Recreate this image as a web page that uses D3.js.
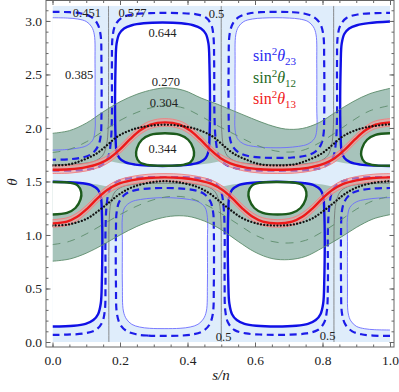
<!DOCTYPE html>
<html>
<head>
<meta charset="utf-8">
<script src="https://cdn.jsdelivr.net/npm/d3@7"></script>
<style>
  body { margin: 0; background: #fff; }
  text { font-family: "Liberation Serif", "Times New Roman", serif; }
</style>
</head>
<body>
<svg id="chart" width="399" height="392"></svg>
<script>
// ---- axis ticks ----
const sTicks = [0, 0.2, 0.4, 0.6, 0.8, 1.0];
const sMinor = d3.range(0, 1.0001, 0.05);
const thetaTicks = [0, 0.5, 1.0, 1.5, 2.0, 2.5, 3.0];
const thetaMinor = d3.range(0, 3.15, 0.1);

// ---- sin^2 theta23 contours, points are (s/n, theta) ----
const b385_U0 = [[0,3.03],[0.045,3.027],[0.075,3.018],[0.1,2.995],[0.116,2.945],[0.124,2.87],[0.126,2.6],[0.126,2.2],[0.126,1.98],[0.119,1.885],[0.1,1.833],[0.072,1.81],[0.035,1.797],[0,1.793]];
const b385_U2 = [[0.662,3.03],[0.702,3.027],[0.732,3.018],[0.757,2.995],[0.773,2.945],[0.781,2.87],[0.783,2.6],[0.783,2.2],[0.783,1.98],[0.776,1.9],[0.757,1.85],[0.729,1.828],[0.692,1.817],[0.662,1.815],[0.632,1.817],[0.595,1.828],[0.567,1.85],[0.548,1.9],[0.541,1.98],[0.541,2.2],[0.541,2.6],[0.543,2.87],[0.551,2.945],[0.567,2.995],[0.592,3.018],[0.622,3.027]];
const b385_L1 = [[0.333,0.125],[0.288,0.128],[0.258,0.14],[0.235,0.165],[0.219,0.215],[0.21,0.29],[0.207,0.542],[0.207,0.942],[0.207,1.162],[0.214,1.257],[0.233,1.309],[0.261,1.332],[0.298,1.345],[0.333,1.349],[0.368,1.345],[0.405,1.332],[0.433,1.309],[0.452,1.257],[0.459,1.162],[0.459,0.942],[0.459,0.542],[0.456,0.29],[0.447,0.215],[0.431,0.165],[0.408,0.14],[0.378,0.128]];
const b385_L3 = [[1,0.112],[0.955,0.115],[0.925,0.124],[0.9,0.147],[0.884,0.197],[0.876,0.272],[0.874,0.542],[0.874,0.942],[0.874,1.162],[0.881,1.257],[0.9,1.309],[0.928,1.332],[0.965,1.345],[1,1.349]];

const b451_U0 = [[0,3.085],[0.05,3.082],[0.085,3.07],[0.113,3.04],[0.132,2.98],[0.142,2.88],[0.145,2.6],[0.145,2.1],[0.143,1.93],[0.135,1.83],[0.117,1.76],[0.09,1.725],[0.05,1.708],[0,1.703]];
const b451_U2 = [[0.663,3.085],[0.71,3.082],[0.745,3.07],[0.773,3.04],[0.792,2.98],[0.802,2.88],[0.805,2.6],[0.805,2.1],[0.803,1.94],[0.795,1.84],[0.777,1.775],[0.75,1.74],[0.71,1.724],[0.663,1.72],[0.617,1.724],[0.577,1.74],[0.55,1.775],[0.532,1.84],[0.524,1.94],[0.522,2.1],[0.522,2.6],[0.525,2.88],[0.535,2.98],[0.554,3.04],[0.582,3.07],[0.617,3.082]];
const b451_L1 = [[0.333,0.057],[0.283,0.06],[0.248,0.072],[0.22,0.102],[0.201,0.162],[0.191,0.262],[0.188,0.542],[0.188,1.042],[0.19,1.212],[0.198,1.312],[0.216,1.382],[0.243,1.417],[0.283,1.434],[0.333,1.439],[0.383,1.434],[0.423,1.417],[0.45,1.382],[0.468,1.312],[0.476,1.212],[0.478,1.042],[0.478,0.542],[0.475,0.262],[0.465,0.162],[0.446,0.102],[0.418,0.072],[0.383,0.06]];
const b451_L3 = [[1,0.057],[0.95,0.06],[0.915,0.072],[0.887,0.102],[0.868,0.162],[0.858,0.262],[0.855,0.542],[0.855,1.042],[0.857,1.212],[0.865,1.312],[0.883,1.382],[0.91,1.417],[0.95,1.434],[1,1.439]];

const b500_U0 = [[0.166,3.1416],[0.166,2.3],[0.165,2.0],[0.16,1.84],[0.148,1.74],[0.125,1.69],[0.09,1.668],[0.045,1.66],[0,1.658]];
const b500_U2 = [[0.5,3.1416],[0.5,2.3],[0.501,2.0],[0.506,1.84],[0.518,1.74],[0.541,1.69],[0.576,1.668],[0.621,1.66],[0.667,1.658],[0.712,1.66],[0.757,1.668],[0.792,1.69],[0.815,1.74],[0.827,1.84],[0.832,2.0],[0.833,2.3],[0.833,3.1416]];
const b500_L1 = [[0.5,0],[0.5,0.842],[0.499,1.142],[0.494,1.302],[0.482,1.402],[0.459,1.452],[0.424,1.474],[0.379,1.482],[0.333,1.484],[0.288,1.482],[0.243,1.474],[0.208,1.452],[0.185,1.402],[0.173,1.302],[0.168,1.142],[0.167,0.842],[0.167,0]];
const b500_L3 = [[0.834,0],[0.834,0.842],[0.835,1.142],[0.84,1.302],[0.852,1.402],[0.875,1.452],[0.91,1.474],[0.955,1.482],[1,1.484]];

const b577_up = [[0,1.60],[0.06,1.602],[0.1,1.61],[0.13,1.628],[0.152,1.665],[0.166,1.74],[0.173,1.88],[0.176,2.1],[0.176,2.6],[0.178,2.85],[0.186,2.96],[0.205,3.03],[0.24,3.062],[0.29,3.073],[0.326,3.075],[0.376,3.073],[0.426,3.062],[0.455,3.03],[0.471,2.96],[0.477,2.85],[0.479,2.6],[0.48,2.1],[0.484,1.88],[0.493,1.74],[0.51,1.665],[0.536,1.628],[0.567,1.61],[0.607,1.602],[0.667,1.60],[0.727,1.602],[0.767,1.61],[0.797,1.628],[0.819,1.665],[0.833,1.74],[0.84,1.88],[0.843,2.1],[0.843,2.6],[0.845,2.85],[0.853,2.96],[0.872,3.03],[0.907,3.062],[0.957,3.073],[1,3.075]];
const b577_lo = [[0,0.067],[0.043,0.069],[0.093,0.08],[0.128,0.112],[0.147,0.182],[0.155,0.292],[0.157,0.542],[0.157,1.042],[0.16,1.262],[0.167,1.402],[0.181,1.477],[0.203,1.514],[0.233,1.532],[0.273,1.54],[0.333,1.542],[0.393,1.54],[0.433,1.532],[0.464,1.514],[0.486,1.477],[0.5,1.402],[0.507,1.262],[0.51,1.042],[0.51,0.542],[0.512,0.292],[0.52,0.182],[0.539,0.112],[0.574,0.08],[0.624,0.069],[0.663,0.067],[0.705,0.069],[0.752,0.08],[0.786,0.112],[0.805,0.182],[0.813,0.292],[0.816,0.542],[0.816,1.042],[0.82,1.262],[0.828,1.402],[0.844,1.477],[0.87,1.514],[0.9,1.532],[0.94,1.54],[1,1.542]];

const b644_U1 = [[0.326,1.645],[0.29,1.648],[0.245,1.658],[0.215,1.68],[0.198,1.72],[0.19,1.78],[0.187,1.9],[0.187,2.6],[0.19,2.79],[0.198,2.88],[0.212,2.93],[0.235,2.96],[0.27,2.978],[0.326,2.985],[0.382,2.978],[0.417,2.96],[0.44,2.93],[0.454,2.88],[0.462,2.79],[0.465,2.6],[0.465,1.9],[0.462,1.78],[0.454,1.72],[0.437,1.68],[0.407,1.658],[0.362,1.648]];
const b644_U3 = [[1,1.645],[0.957,1.648],[0.912,1.658],[0.882,1.68],[0.865,1.72],[0.857,1.78],[0.854,1.9],[0.854,2.6],[0.857,2.79],[0.865,2.88],[0.879,2.93],[0.902,2.96],[0.937,2.98],[1,2.995]];
const b644_L0 = [[0,1.497],[0.043,1.494],[0.088,1.484],[0.118,1.462],[0.135,1.422],[0.143,1.362],[0.146,1.242],[0.146,0.542],[0.143,0.36],[0.135,0.26],[0.121,0.205],[0.098,0.17],[0.063,0.152],[0,0.145]];
const b644_L2 = [[0.663,1.497],[0.702,1.494],[0.747,1.484],[0.777,1.462],[0.794,1.422],[0.802,1.362],[0.805,1.242],[0.805,0.542],[0.802,0.36],[0.794,0.26],[0.78,0.205],[0.757,0.17],[0.722,0.152],[0.663,0.145],[0.604,0.152],[0.569,0.17],[0.546,0.205],[0.532,0.26],[0.524,0.36],[0.521,0.542],[0.521,1.242],[0.524,1.362],[0.532,1.422],[0.549,1.462],[0.579,1.484],[0.624,1.494]];

// ---- sin^2 theta12 contours ----
const g270_up = [[0,1.95],[0.05,1.975],[0.1,2.045],[0.15,2.15],[0.2,2.245],[0.25,2.315],[0.3,2.36],[0.34,2.375],[0.39,2.35],[0.44,2.28],[0.49,2.22],[0.54,2.155],[0.59,2.09],[0.64,2.03],[0.69,1.99],[0.74,1.995],[0.79,2.05],[0.84,2.15],[0.89,2.245],[0.94,2.32],[1,2.37]];
const g270_lo = [[0,0.755],[0.05,0.775],[0.1,0.83],[0.15,0.91],[0.2,1.0],[0.25,1.08],[0.3,1.14],[0.35,1.175],[0.4,1.175],[0.45,1.13],[0.5,1.05],[0.55,0.94],[0.6,0.84],[0.65,0.78],[0.7,0.77],[0.75,0.8],[0.8,0.88],[0.85,0.97],[0.9,1.07],[0.95,1.15],[1,1.19]];
const g304_up = [[0,1.77],[0.05,1.80],[0.1,1.87],[0.15,1.97],[0.2,2.07],[0.25,2.145],[0.3,2.195],[0.34,2.21],[0.39,2.185],[0.44,2.11],[0.49,2.02],[0.54,1.94],[0.59,1.86],[0.64,1.8],[0.69,1.775],[0.74,1.79],[0.79,1.86],[0.84,1.96],[0.89,2.07],[0.94,2.16],[1,2.21]];
const g304_lo = [[0,0.91],[0.05,0.94],[0.1,1.01],[0.15,1.1],[0.2,1.19],[0.25,1.27],[0.3,1.33],[0.35,1.36],[0.4,1.35],[0.45,1.29],[0.5,1.2],[0.55,1.1],[0.6,1.0],[0.65,0.94],[0.7,0.925],[0.75,0.95],[0.8,1.03],[0.85,1.13],[0.9,1.24],[0.95,1.32],[1,1.36]];
const g344_U1 = [[0.333,1.95],[0.29,1.935],[0.265,1.89],[0.25,1.81],[0.248,1.74],[0.258,1.68],[0.28,1.655],[0.333,1.647],[0.387,1.655],[0.409,1.68],[0.419,1.74],[0.417,1.81],[0.402,1.89],[0.377,1.935]];
const g344_U3 = [[1,1.95],[0.957,1.935],[0.932,1.89],[0.917,1.81],[0.915,1.74],[0.925,1.68],[0.947,1.655],[1,1.647]];
const g344_L0 = [[0,1.192],[0.043,1.207],[0.068,1.252],[0.083,1.332],[0.085,1.402],[0.075,1.462],[0.053,1.487],[0,1.495]];
const g344_L2 = [[0.667,1.192],[0.71,1.207],[0.735,1.252],[0.75,1.332],[0.752,1.402],[0.742,1.462],[0.72,1.487],[0.667,1.495],[0.613,1.487],[0.591,1.462],[0.581,1.402],[0.583,1.332],[0.598,1.252],[0.623,1.207]];
// inner edge of the shaded theta12 band
const gIn_up = [[0,1.605],[0.08,1.615],[0.13,1.64],[0.167,1.685],[0.2,1.67],[0.25,1.652],[0.333,1.645],[0.417,1.652],[0.467,1.67],[0.5,1.685],[0.537,1.64],[0.587,1.615],[0.667,1.605],[0.747,1.615],[0.797,1.64],[0.834,1.685],[0.867,1.67],[0.917,1.652],[1,1.645]];
const gIn_lo = [[0,1.497],[0.083,1.49],[0.133,1.472],[0.166,1.457],[0.203,1.502],[0.253,1.527],[0.333,1.537],[0.413,1.527],[0.463,1.502],[0.5,1.457],[0.533,1.472],[0.583,1.49],[0.667,1.497],[0.75,1.49],[0.8,1.472],[0.833,1.457],[0.87,1.502],[0.92,1.527],[1,1.537]];

// ---- sin^2 theta13 best fit ----
const r_up = [[0,1.61],[0.05,1.614],[0.1,1.634],[0.14,1.67],[0.17,1.72],[0.2,1.8],[0.23,1.895],[0.26,1.978],[0.29,2.03],[0.333,2.052],[0.377,2.03],[0.407,1.978],[0.437,1.895],[0.467,1.8],[0.497,1.72],[0.527,1.67],[0.567,1.634],[0.617,1.614],[0.667,1.61],[0.717,1.614],[0.767,1.634],[0.807,1.67],[0.837,1.72],[0.867,1.8],[0.897,1.895],[0.927,1.978],[0.957,2.03],[1,2.052]];
const r_lo = [[0,1.108],[0.043,1.125],[0.073,1.17],[0.103,1.247],[0.133,1.342],[0.163,1.422],[0.193,1.475],[0.233,1.51],[0.283,1.532],[0.333,1.538],[0.383,1.532],[0.433,1.51],[0.473,1.475],[0.503,1.422],[0.533,1.342],[0.563,1.247],[0.593,1.17],[0.623,1.125],[0.667,1.108],[0.71,1.125],[0.74,1.17],[0.77,1.247],[0.8,1.342],[0.83,1.422],[0.86,1.475],[0.9,1.51],[0.95,1.532],[1,1.538]];

// ---- black dotted curves ----
const k_up = [[0,1.65],[0.05,1.66],[0.09,1.70],[0.13,1.76],[0.16,1.835],[0.19,1.915],[0.22,1.965],[0.26,2.005],[0.333,2.03],[0.407,2.005],[0.447,1.965],[0.477,1.915],[0.507,1.835],[0.537,1.76],[0.577,1.70],[0.617,1.66],[0.667,1.65],[0.717,1.66],[0.757,1.70],[0.797,1.76],[0.827,1.835],[0.857,1.915],[0.887,1.965],[0.927,2.005],[1,2.035]];
const k_lo = [[0,1.088],[0.05,1.1],[0.1,1.15],[0.14,1.235],[0.17,1.31],[0.2,1.385],[0.235,1.445],[0.28,1.485],[0.333,1.503],[0.387,1.485],[0.432,1.445],[0.467,1.385],[0.497,1.31],[0.527,1.235],[0.567,1.15],[0.617,1.1],[0.667,1.088],[0.717,1.1],[0.767,1.15],[0.807,1.235],[0.837,1.31],[0.867,1.385],[0.902,1.445],[0.947,1.485],[1,1.503]];

// ---- labels ----
const contourLabels = [["0.451",0.102,3.037],["0.577",0.237,3.037],["0.644",0.326,2.85],["0.385",0.079,2.458],
  ["0.270",0.336,2.393],["0.304",0.330,2.196],["0.344",0.326,1.766],["0.5",0.486,3.028],["0.5",0.507,0.009],["0.5",0.815,0.019]];
const legendSubs = ["23", "12", "13"];
const legendColors = ["#2a2af0", "#1e6a1e", "#f02020"];

const svg = d3.select("#chart");
const xS = d3.scaleLinear().domain([0, 1]).range([52.5, 390]);
const yS = d3.scaleLinear().domain([0, Math.PI]).range([342, 5.8]);

const lineOpen = d3.line().x(d => xS(d[0])).y(d => yS(d[1])).curve(d3.curveCatmullRom.alpha(0.5));
const lineClosed = d3.line().x(d => xS(d[0])).y(d => yS(d[1])).curve(d3.curveCatmullRomClosed.alpha(0.5));

svg.append("defs").append("clipPath").attr("id", "plotclip")
  .append("rect").attr("x", xS(0)).attr("y", yS(Math.PI)).attr("width", xS(1) - xS(0)).attr("height", yS(0) - yS(Math.PI));

const plot = svg.append("g").attr("clip-path", "url(#plotclip)");

// light blue background = 3 sigma region of theta23
plot.append("rect").attr("x", xS(0)).attr("y", yS(Math.PI)).attr("width", xS(1) - xS(0)).attr("height", yS(0) - yS(Math.PI))
  .attr("fill", "#dfedfb");

// white cells outside the theta23 range
[b385_U2, b385_L1, b644_U1, b644_L2].forEach(c => plot.append("path").attr("d", lineClosed(c)).attr("fill", "#fff"));
[b385_U0, b385_L3, b644_U3, b644_L0].forEach(c => plot.append("path").attr("d", lineOpen(c) + "Z").attr("fill", "#fff"));

// theta12 band
const band = (outer, inner) => lineOpen(outer) + lineOpen(inner.slice().reverse()).replace(/^M/, "L") + "Z";
plot.append("path").attr("d", band(g270_up, gIn_up)).attr("fill", "#a7c4bb");
plot.append("path").attr("d", band(g270_lo, gIn_lo)).attr("fill", "#a7c4bb");
plot.append("path").attr("d", lineClosed(g344_U1)).attr("fill", "#fff");
plot.append("path").attr("d", lineClosed(g344_L2)).attr("fill", "#fff");
plot.append("path").attr("d", lineOpen(g344_U3) + "Z").attr("fill", "#fff");
plot.append("path").attr("d", lineOpen(g344_L0) + "Z").attr("fill", "#fff");

function stroke(d, color, w, dash) {
  const p = plot.append("path").attr("d", d).attr("fill", "none").attr("stroke", color).attr("stroke-width", w);
  if (dash) p.attr("stroke-dasharray", dash);
  return p;
}
// blue lines
[b385_U2, b385_L1].forEach(c => stroke(lineClosed(c), "#6c6cff", 0.9));
[b385_U0, b385_L3].forEach(c => stroke(lineOpen(c), "#6c6cff", 0.9));
[b500_U0, b500_U2, b500_L1, b500_L3].forEach(c => stroke(lineOpen(c), "#707070", 0.8));
[b451_U2, b451_L1].forEach(c => stroke(lineClosed(c), "#1c1ce8", 2.2, "7,4.5"));
[b451_U0, b451_L3, b577_up, b577_lo].forEach(c => stroke(lineOpen(c), "#1c1ce8", 2.2, "7,4.5"));
[b644_U1, b644_L2].forEach(c => stroke(lineClosed(c), "#1010e6", 2.4));
[b644_U3, b644_L0].forEach(c => stroke(lineOpen(c), "#1010e6", 2.4));

// green lines
[g270_up, g270_lo].forEach(c => stroke(lineOpen(c), "#5e8c6c", 0.9));
[g304_up, g304_lo].forEach(c => stroke(lineOpen(c), "#5e8c6c", 0.9, "8,7"));
[g344_U1, g344_L2].forEach(c => stroke(lineClosed(c), "#1d5c1d", 2.4));
[g344_U3, g344_L0].forEach(c => stroke(lineOpen(c), "#1d5c1d", 2.4));

// theta13 band: pink swept vertically, thin edges, thick best fit
[r_up, r_lo].forEach(c => {
  const g = plot.append("g").attr("opacity", 0.6);
  d3.range(-3.5, 3.51, 0.5).forEach(k =>
    g.append("path").attr("d", lineOpen(c)).attr("transform", `translate(0,${k})`)
      .attr("fill", "none").attr("stroke", "#f5a0a0").attr("stroke-width", 1.2));
  [-3.8, 3.8].forEach(k => stroke(lineOpen(c), "#f07a7a", 0.8).attr("transform", `translate(0,${k})`));
  stroke(lineOpen(c), "#ee1a1a", 2.4);
});

// black dotted
[k_up, k_lo].forEach(c => stroke(lineOpen(c), "#111", 2.3, "0.01,3.3").attr("stroke-linecap", "round"));

// contour labels
svg.append("g").selectAll("text").data(contourLabels).join("text")
  .attr("x", d => xS(d[1])).attr("y", d => yS(d[2])).attr("text-anchor", "middle")
  .style("font-size", "12.5px").attr("fill", "#222").text(d => d[0]);

// legend
legendSubs.forEach((sub, i) => {
  const t = svg.append("text").attr("x", 253).attr("y", 61 + i * 21.5).attr("fill", legendColors[i]).style("font-size", "16px");
  t.append("tspan").text("sin");
  t.append("tspan").attr("dy", -6).style("font-size", "11px").text("2");
  t.append("tspan").attr("dy", 6).style("font-style", "italic").text("\u03b8");
  t.append("tspan").attr("dy", 4).style("font-size", "11px").text(sub);
});

// frame and ticks
const frame = { l: 46, r: 394, t: 0.5, b: 347 };
svg.append("rect").attr("x", frame.l).attr("y", frame.t).attr("width", frame.r - frame.l).attr("height", frame.b - frame.t)
  .attr("fill", "none").attr("stroke", "#666").attr("stroke-width", 1);

const fmt = d3.format(".1f");
svg.append("g").attr("transform", `translate(0,${frame.b})`)
  .call(d3.axisBottom(xS).tickValues(sTicks).tickSize(-4.5).tickPadding(8).tickFormat(fmt));
svg.append("g").attr("transform", `translate(${frame.l},0)`)
  .call(d3.axisLeft(yS).tickValues(thetaTicks).tickSize(-4.5).tickPadding(4).tickFormat(fmt));
svg.append("g").attr("transform", `translate(0,${frame.b})`).call(d3.axisBottom(xS).tickValues(sMinor).tickSize(-2.5).tickFormat(""));
svg.append("g").attr("transform", `translate(${frame.l},0)`).call(d3.axisLeft(yS).tickValues(thetaMinor).tickSize(-2.5).tickFormat(""));
svg.append("g").attr("transform", `translate(0,${frame.t})`).call(d3.axisTop(xS).tickValues(sTicks).tickSize(-4.5).tickFormat(""));
svg.append("g").attr("transform", `translate(0,${frame.t})`).call(d3.axisTop(xS).tickValues(sMinor).tickSize(-2.5).tickFormat(""));
svg.append("g").attr("transform", `translate(${frame.r},0)`).call(d3.axisRight(yS).tickValues(thetaTicks).tickSize(-4.5).tickFormat(""));
svg.append("g").attr("transform", `translate(${frame.r},0)`).call(d3.axisRight(yS).tickValues(thetaMinor).tickSize(-2.5).tickFormat(""));
svg.selectAll(".domain").remove();
svg.selectAll(".tick line").attr("stroke", "#666");
svg.selectAll(".tick text").style("font-size", "13.5px").attr("fill", "#222").style("font-family", "Liberation Serif, serif");

svg.append("text").attr("x", 221).attr("y", 380).attr("text-anchor", "middle")
  .style("font-size", "15px").style("font-style", "italic").attr("fill", "#222").text("s/n");
svg.append("text").attr("transform", "translate(17,182) rotate(-90)").attr("text-anchor", "middle")
  .style("font-size", "15px").style("font-style", "italic").attr("fill", "#222").text("\u03b8");
</script>
</body>
</html>
